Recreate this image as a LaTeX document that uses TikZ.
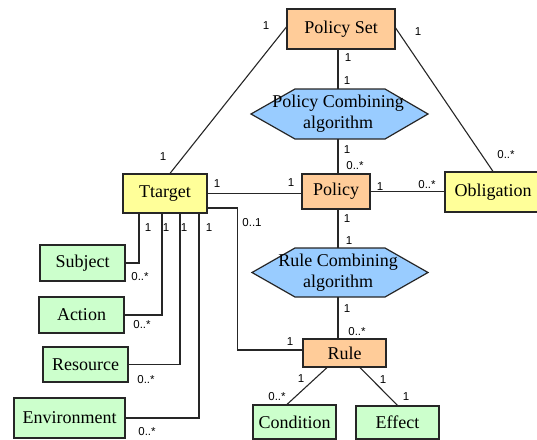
\documentclass[tikz,border=0pt]{standalone}
\usepackage{fontspec}
\setmainfont{Liberation Serif}
\newfontfamily\lblfont{Liberation Sans}
\newfontfamily\boxfont{Liberation Serif}
\definecolor{orangefill}{HTML}{FFCC99}
\definecolor{yellowfill}{HTML}{FFFF99}
\definecolor{greenfill}{HTML}{CCFFCC}
\definecolor{bluefill}{HTML}{99CCFF}
\begin{document}
\begin{tikzpicture}[x=1pt,y=-1pt,
  box/.style={draw=black!85, line width=1.2pt, inner sep=0pt, font=\boxfont\fontsize{18}{20}\selectfont},
  orangebox/.style={box, fill=orangefill},
  yellowbox/.style={box, fill=yellowfill},
  greenbox/.style={box, fill=greenfill},
  hexnode/.style={inner sep=0pt, align=center, font=\boxfont\fontsize{18}{21}\selectfont},
  hexshape/.style={draw=black!85, line width=1.2pt, fill=bluefill},
  conn/.style={draw=black!85, line width=1.1pt},
  lbl/.style={inner sep=0pt, font=\lblfont\fontsize{11.5}{12}\selectfont}
]
\useasboundingbox (0,0) rectangle (537,439);

% hexagons
\filldraw[hexshape] (251,114) -- (295,89) -- (385,89) -- (428,114) -- (385,139) -- (295,139) -- cycle;
\filldraw[hexshape] (252,272.5) -- (295,248) -- (385,248) -- (428,272.5) -- (385,297) -- (295,297) -- cycle;

% nodes
\node[orangebox, minimum width=108pt, minimum height=40pt] (ps) at (341,29) {Policy Set};
\node[hexnode, minimum width=176pt, minimum height=50pt] (pca) at (338,114) {Policy Combining\\algorithm};
\node[yellowbox, minimum width=84pt, minimum height=39pt] (tt) at (165,193.5) {Ttarget};
\node[orangebox, minimum width=68pt, minimum height=35pt] (pol) at (336,191.5) {Policy};
\node[yellowbox, minimum width=96pt, minimum height=40pt] (obl) at (493,192) {Obligation};
\node[hexnode, minimum width=176pt, minimum height=49pt] (rca) at (338,272.5) {Rule Combining\\algorithm};
\node[orangebox, minimum width=83pt, minimum height=28pt] (rule) at (344.5,353) {Rule};
\node[greenbox, minimum width=85pt, minimum height=36pt] (sub) at (82.5,263) {Subject};
\node[greenbox, minimum width=85pt, minimum height=36pt] (act) at (81.5,315) {Action};
\node[greenbox, minimum width=85pt, minimum height=35pt] (res) at (85.5,364.5) {Resource};
\node[greenbox, minimum width=111pt, minimum height=40pt] (env) at (69.5,418) {Environment};
\node[greenbox, minimum width=83pt, minimum height=34pt] (cond) at (294.5,422) {Condition};
\node[greenbox, minimum width=83pt, minimum height=33pt] (eff) at (397.5,422.5) {Effect};

% connectors
\draw[conn] (ps.south -| pca.north) -- (pca.north);
\draw[conn] (pca.south) -- (pca.south |- pol.north);
\draw[conn] (pol.south -| rca.north) -- (rca.north);
\draw[conn] (rca.south) -- (rca.south |- rule.north);
\draw[conn] ([yshift=2pt]ps.west) -- ([xshift=5pt]tt.north);
\draw[conn] ([yshift=1pt]ps.east) -- (obl.north);
\draw[conn] (tt.east) -- (tt.east -| pol.west);
\draw[conn] (pol.east) -- (pol.east -| obl.west);
\draw[conn] ([yshift=-14.5pt]tt.east) -- ++(30,0) |- ([yshift=3pt]rule.west);
\draw[conn] ([xshift=-26pt]tt.south) |- (sub.east);
\draw[conn] ([xshift=-3pt]tt.south) |- (act.east);
\draw[conn] ([xshift=15pt]tt.south) |- (res.east);
\draw[conn] ([xshift=34pt]tt.south) |- (env.east);
\draw[conn] ([xshift=-17.5pt]rule.south) -- ([xshift=-7.5pt]cond.north);
\draw[conn] ([xshift=15.5pt]rule.south) -- (eff.north);

% multiplicity labels
\node[lbl] (l1) at (266,26) {1};
\node[lbl] (l2) at (163,157) {1};
\node[lbl] (l3) at (418,32) {1};
\node[lbl] (l4) at (506,155) {0..*};
\node[lbl] (l5) at (348,58) {1};
\node[lbl] (l6) at (347,81) {1};
\node[lbl] (l7) at (347,150) {1};
\node[lbl] (l8) at (355,166) {0..*};
\node[lbl] (l9) at (217,184) {1};
\node[lbl] (l10) at (291,183) {1};
\node[lbl] (l11) at (380,187) {1};
\node[lbl] (l12) at (427,185) {0..*};
\node[lbl] (l13) at (347,219) {1};
\node[lbl] (l14) at (349,241) {1};
\node[lbl] (l15) at (347,309) {1};
\node[lbl] (l16) at (357,332) {0..*};
\node[lbl] (l17) at (252,223) {0..1};
\node[lbl] (l18) at (290,342) {1};
\node[lbl] (l19) at (148,228) {1};
\node[lbl] (l20) at (166,228) {1};
\node[lbl] (l21) at (184,228) {1};
\node[lbl] (l22) at (209,228) {1};
\node[lbl] (l23) at (140,277) {0..*};
\node[lbl] (l24) at (142,325) {0..*};
\node[lbl] (l25) at (146,380) {0..*};
\node[lbl] (l26) at (147,432) {0..*};
\node[lbl] (l27) at (301,379) {1};
\node[lbl] (l28) at (277,397) {0..*};
\node[lbl] (l29) at (383,380) {1};
\node[lbl] (l30) at (406,397) {1};
\end{tikzpicture}
\end{document}
